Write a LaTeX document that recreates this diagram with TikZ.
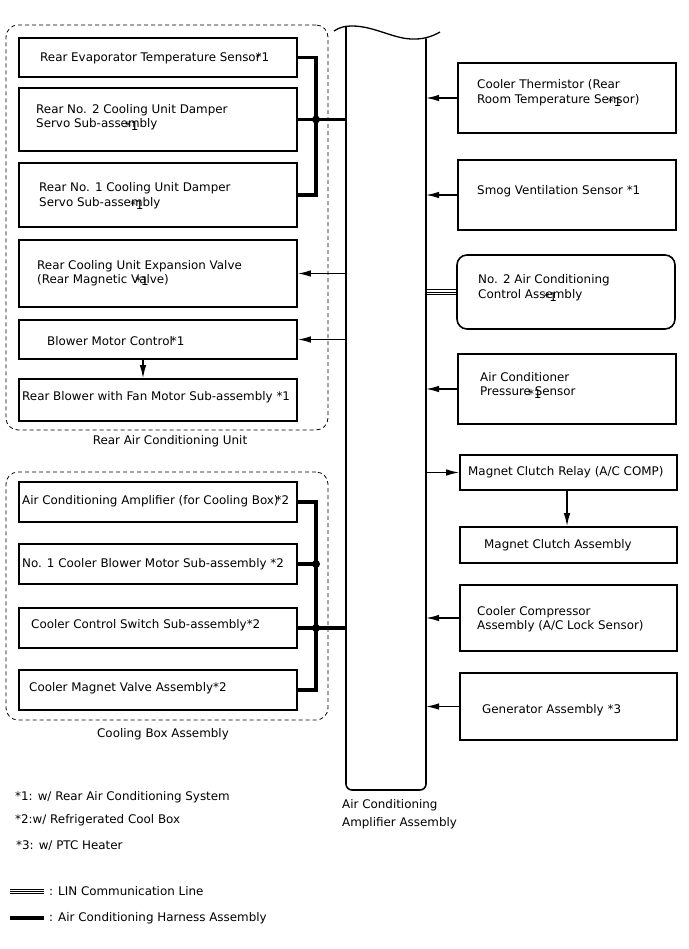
\documentclass[tikz,border=0pt]{standalone}
\usepackage{fontspec}
\setmainfont{DejaVu Sans}
\usetikzlibrary{arrows.meta}
\begin{document}
\begin{tikzpicture}[x=1pt,y=-1pt,
  font=\fontsize{11.9}{14.5}\selectfont,
  box/.style={draw, line width=1.6pt, inner sep=0pt},
  txt/.style={anchor=west, align=left, inner sep=0pt},
  grp/.style={draw, line width=0.8pt, rounded corners=12pt, dash pattern=on 4pt off 3pt, inner sep=0pt},
  bus/.style={line width=3.6pt},
  sig/.style={line width=1.3pt, -{Latex[length=13pt,width=6.5pt]}},
  dot/.style={circle, fill, inner sep=0pt, minimum size=8pt},
  thin/.style={line width=0.6pt},
]
\useasboundingbox (0,0) rectangle (688,949);

% amplifier
\coordinate (ampL) at (346,0);
\coordinate (ampR) at (426,0);
\coordinate (jt) at (316,0);
\draw[line width=1.6pt, rounded corners=6pt] (346,26.5) -- (346,790) -- (426,790) -- (426,38.5);
\draw[line width=1.3pt] (334,31) .. controls (340,27) and (345,26) .. (352,26)
  .. controls (375,26) and (395,40) .. (415,39) .. controls (425,39) and (433,36) .. (440,32);
\node[txt, align=left, font=\fontsize{11.9}{18}\selectfont] (amplbl) at (342,814) {Air Conditioning\\Amplifier Assembly};

% groups
\node[grp, minimum width=322pt, minimum height=405pt] (g1) at (167,227.5) {};
\node[inner sep=0pt] (g1l) at (170,441) {Rear Air Conditioning Unit};
\node[grp, minimum width=322pt, minimum height=248pt] (g2) at (167,596) {};
\node[inner sep=0pt] (g2l) at (163,734) {Cooling Box Assembly};

% left boxes
\node[box, minimum width=278pt, minimum height=39pt] (b1) at (158,57.5) {};
\node[box, minimum width=278pt, minimum height=63pt] (b2) at (158,119.5) {};
\node[box, minimum width=278pt, minimum height=64pt] (b3) at (158,195) {};
\node[box, minimum width=278pt, minimum height=67pt] (b4) at (158,273.5) {};
\node[box, minimum width=278pt, minimum height=39pt] (b5) at (158,339.5) {};
\node[box, minimum width=278pt, minimum height=42pt] (b6) at (158,400) {};
\node[txt] (t1) at (40,58) {Rear Evaporator Temperature Sensor\kern-5pt*1};
\node[txt] (t2) at (36,117.5) {Rear No. 2 Cooling Unit Damper\\Servo Sub-asse\rlap{\kern-3pt\raisebox{-3pt}{*1}}mbly};
\node[txt] (t3) at (39,196) {Rear No. 1 Cooling Unit Damper\\Servo Sub-asse\rlap{\kern-1pt\raisebox{-3pt}{*1}}mbly};
\node[txt] (t4) at (37,273) {Rear Cooling Unit Expansion Valve\\(Rear Magnetic V\rlap{\kern-4pt\raisebox{-2pt}{*1}}alve)};
\node[txt] (t5) at (47,341) {Blower Motor Control\kern-2pt*1};
\node[txt] (t6) at (22,397) {Rear Blower with Fan Motor Sub-assembly *1};

% cooling box
\node[box, minimum width=278pt, minimum height=40pt] (c1) at (158,502) {};
\node[box, minimum width=278pt, minimum height=40pt] (c2) at (158,564) {};
\node[box, minimum width=278pt, minimum height=40pt] (c3) at (158,628) {};
\node[box, minimum width=278pt, minimum height=40pt] (c4) at (158,690) {};
\node[txt] (u1) at (22,501) {Air Conditioning Amplifier (for Cooling Box)\kern-3pt*2};
\node[txt] (u2) at (22,564) {No. 1 Cooler Blower Motor Sub-assembly *2};
\node[txt] (u3) at (31,625) {Cooler Control Switch Sub-assembly*2};
\node[txt] (u4) at (29,688) {Cooler Magnet Valve Assembly*2};

% right boxes
\node[box, minimum width=218pt, minimum height=70pt] (r1) at (567,98) {};
\node[box, minimum width=218pt, minimum height=70pt] (r2) at (567,195) {};
\node[box, rounded corners=10pt, minimum width=218pt, minimum height=74pt] (r3) at (566,292) {};
\node[box, minimum width=218pt, minimum height=70pt] (r4) at (567,389) {};
\node[box, minimum width=217pt, minimum height=35pt] (r5) at (568.5,472.5) {};
\node[box, minimum width=217pt, minimum height=36pt] (r6) at (568.5,545) {};
\node[box, minimum width=217pt, minimum height=66pt] (r7) at (568.5,618) {};
\node[box, minimum width=217pt, minimum height=67pt] (r8) at (568.5,706.5) {};
\node[txt] (s1) at (477,93) {Cooler Thermistor (Rear\\Room Temperature Se\rlap{\kern-1pt\raisebox{-3pt}{*1}}nsor)};
\node[txt] (s2) at (477,191) {Smog Ventilation Sensor *1};
\node[txt] (s3) at (478,288) {No. 2 Air Conditioning\\Control Ass\rlap{\kern-2pt\raisebox{-3pt}{*1}}embly};
\node[txt] (s4) at (480,385.5) {Air Conditioner\\Pressure\rlap{\kern-3pt\raisebox{-3pt}{*1}} Sensor};
\node[txt] (s5) at (468,472) {Magnet Clutch Relay (A/C COMP)};
\node[txt] (s6) at (484,545) {Magnet Clutch Assembly};
\node[txt] (s7) at (477,619) {Cooler Compressor\\Assembly (A/C Lock Sensor)};
\node[txt] (s8) at (482,710) {Generator Assembly *3};

% harness buses
\draw[bus] (b1.east) -| (b3.east -| jt) -- (b3.east);
\draw[bus] (b2.east) -- (b2.east -| ampL);
\node[dot] (d1) at (b2.east -| jt) {};
\draw[bus] (c1.east) -| (c4.east -| jt) -- (c4.east);
\draw[bus] (c2.east) -- (c2.east -| jt);
\draw[bus] (c3.east) -- (c3.east -| ampL);
\node[dot] (d2) at (c2.east -| jt) {};
\node[dot] (d3) at (c3.east -| jt) {};

% signals
\draw[sig] (b4.east -| ampL) -- (b4.east);
\draw[sig] (b5.east -| ampL) -- (b5.east);
\draw[sig] ([xshift=-15pt]b5.south) -- ([xshift=-15pt]b6.north);
\draw[sig] (r1.west) -- (r1.west -| ampR);
\draw[sig] (r2.west) -- (r2.west -| ampR);
\draw[sig] (r4.west) -- (r4.west -| ampR);
\draw[sig] (r5.west -| ampR) -- (r5.west);
\draw[sig] ([xshift=-1.5pt]r5.south) -- ([xshift=-1.5pt]r6.north);
\draw[sig] (r7.west) -- (r7.west -| ampR);
\draw[sig] (r8.west) -- (r8.west -| ampR);

% LIN
\foreach \d in {-2.5,0,2.5}
  \draw[thin] ([yshift=\d pt]r3.west -| ampR) -- ([yshift=\d pt]r3.west);

% legend
\node[txt] (n1) at (15,797) {*1: w/ Rear Air Conditioning System};
\node[txt] (n2) at (15,820) {*2:w/ Refrigerated Cool Box};
\node[txt] (n3) at (16,846) {*3: w/ PTC Heater};
\coordinate (lA) at (10,891);
\coordinate (lB) at (44,891);
\foreach \d in {-2,0,2}
  \draw[thin] ([yshift=\d pt]lA) -- ([yshift=\d pt]lB);
\node[txt] (n4) at (49,891) {: LIN Communication Line};
\coordinate (hA) at (10,918);
\coordinate (hB) at (44,918);
\draw[bus] (hA) -- (hB);
\node[txt] (n5) at (49,918) {: Air Conditioning Harness Assembly};
\end{tikzpicture}
\end{document}
